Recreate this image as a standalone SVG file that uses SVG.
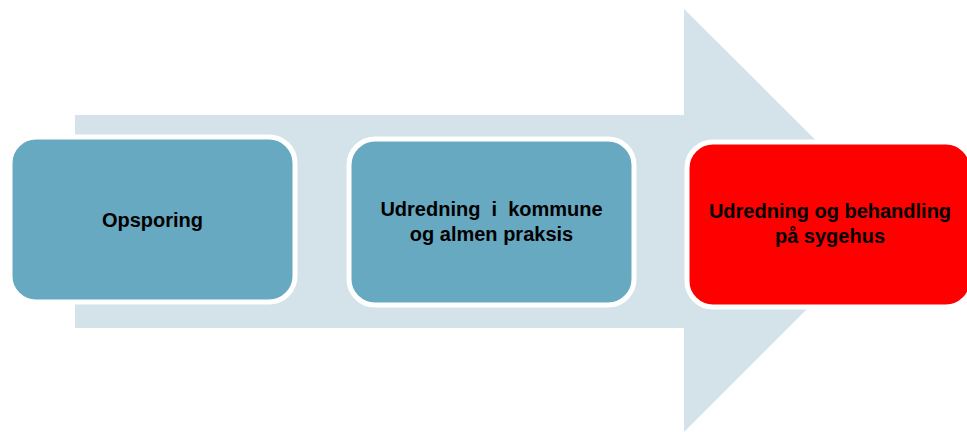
<svg xmlns="http://www.w3.org/2000/svg" width="967" height="432" viewBox="0 0 967 432">
<style>
.box{stroke:#FFFFFF;stroke-width:5}
.blue{fill:#68A9C2}
.red{fill:#FF0000}
.lbl{font-family:"Liberation Sans",Arial,sans-serif;font-weight:bold;font-size:20px;fill:#000000;text-anchor:middle;white-space:pre}
</style>
<rect width="967" height="432" fill="#FFFFFF"/>
<g id="arrow">
<polygon points="75,115 684,115 684,9 896,220 684,432 684,328 75,328" fill="#D4E2E9"/>
</g>
<g id="connectors"></g>
<g id="node1">
<rect class="box blue" x="10" y="137" width="285" height="165" rx="26" ry="26"/>
<text class="lbl" x="152.5" y="227">Opsporing</text>
</g>
<g id="node2">
<rect class="box blue" x="349" y="139" width="285" height="166" rx="26" ry="26"/>
<text class="lbl" x="491.5" y="216" xml:space="preserve">Udredning  i  kommune</text>
<text class="lbl" x="491.5" y="241">og almen praksis</text>
</g>
<g id="node3">
<rect class="box red" x="687" y="142" width="285" height="165" rx="26" ry="26"/>
<text class="lbl" x="830" y="218">Udredning og behandling</text>
<text class="lbl" x="830" y="243">på sygehus</text>
</g>
</svg>
